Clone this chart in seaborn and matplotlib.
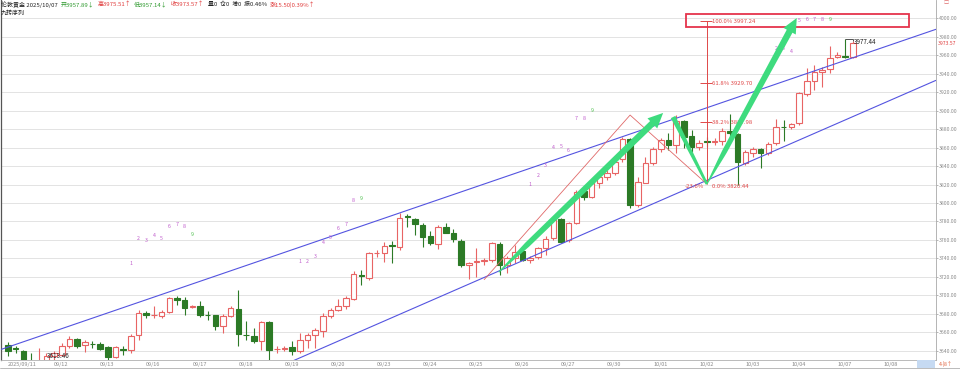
import numpy as np
import matplotlib
matplotlib.use("Agg")
import matplotlib.pyplot as plt
import seaborn as sns
from matplotlib.patches import Rectangle, Polygon
from matplotlib.transforms import IdentityTransform, blended_transform_factory
from matplotlib.ticker import FormatStrFormatter

# ---------------- data ----------------
opens = [3646.4, 3642.6, 3639.5, 3628.0, 3622.0, 3628.0, 3634.5, 3635.6, 3645.3, 3652.6,
         3646.1, 3647.6, 3647.5, 3643.5, 3633.1, 3642.4, 3641.0, 3656.5, 3681.1, 3678.5,
         3677.8, 3681.4, 3696.9, 3694.4, 3687.5, 3687.9, 3678.8, 3678.5, 3666.3, 3677.8,
         3685.0, 3657.5, 3655.5, 3650.4, 3670.6, 3641.8, 3641.8, 3643.5, 3639.2, 3651.9,
         3657.2, 3661.9, 3677.8, 3684.3, 3687.9, 3695.8, 3722.2, 3718.6, 3746.0, 3745.6,
         3754.0, 3752.8, 3785.6, 3782.8, 3776.3, 3764.4, 3755.7, 3773.8, 3767.3, 3759.3,
         3733.0, 3736.0, 3737.0, 3738.4, 3755.7, 3733.0, 3740.0, 3748.5, 3738.4, 3742.0,
         3751.0, 3761.8, 3782.4, 3760.0, 3778.8, 3813.4, 3807.0, 3821.4, 3827.9, 3832.2,
         3847.4, 3869.0, 3797.9, 3822.1, 3843.7, 3858.2, 3868.3, 3862.9, 3889.2, 3872.6,
         3860.3, 3866.6, 3866.0, 3867.6, 3878.4, 3874.8, 3843.7, 3854.6, 3858.2, 3853.8,
         3864.7, 3882.2, 3882.0, 3886.3, 3917.7, 3932.1, 3942.2, 3945.1, 3958.5, 3959.5,
         3957.89]
highs = [3649.0, 3645.0, 3641.0, 3637.0, 3643.0, 3637.0, 3640.0, 3648.2, 3655.5, 3653.6,
         3651.9, 3650.0, 3649.0, 3644.6, 3645.3, 3645.3, 3657.9, 3684.3, 3682.5, 3687.9,
         3684.3, 3698.0, 3699.4, 3698.0, 3689.4, 3694.0, 3682.5, 3679.2, 3680.0, 3688.6,
         3706.0, 3671.7, 3664.8, 3671.7, 3671.7, 3645.3, 3645.0, 3650.0, 3659.1, 3659.1,
         3664.5, 3680.7, 3686.1, 3695.8, 3699.4, 3725.8, 3727.6, 3747.4, 3749.2, 3757.2,
         3758.3, 3788.9, 3788.2, 3783.5, 3778.1, 3769.8, 3776.3, 3778.8, 3771.6, 3760.8,
         3736.6, 3751.0, 3740.0, 3758.0, 3758.0, 3743.0, 3754.6, 3750.0, 3742.6, 3752.8,
         3763.7, 3783.5, 3784.0, 3779.9, 3814.1, 3814.9, 3823.2, 3831.5, 3835.8, 3846.6,
         3871.2, 3870.0, 3828.6, 3850.2, 3860.3, 3870.1, 3875.5, 3895.3, 3890.0, 3879.0,
         3868.3, 3871.9, 3870.0, 3880.9, 3896.4, 3876.2, 3857.5, 3861.1, 3859.3, 3866.5,
         3890.7, 3890.0, 3887.0, 3920.5, 3945.8, 3949.4, 3947.6, 3970.4, 3963.9, 3977.44,
         3975.51]
lows = [3634.5, 3638.0, 3624.0, 3618.0, 3618.0, 3613.46, 3628.0, 3634.0, 3642.8, 3642.8,
        3638.1, 3643.0, 3641.0, 3630.5, 3632.0, 3635.6, 3637.4, 3651.9, 3675.3, 3675.3,
        3675.3, 3680.7, 3689.0, 3678.9, 3686.1, 3676.0, 3673.5, 3662.0, 3659.0, 3676.4,
        3645.3, 3651.9, 3648.2, 3641.0, 3628.0, 3637.4, 3640.0, 3635.6, 3637.4, 3642.8,
        3642.8, 3655.0, 3675.0, 3682.5, 3685.0, 3695.1, 3711.3, 3716.8, 3742.0, 3736.6,
        3735.5, 3749.2, 3774.5, 3765.5, 3752.8, 3754.7, 3750.0, 3767.3, 3758.2, 3731.0,
        3717.5, 3720.0, 3733.0, 3736.0, 3722.0, 3724.0, 3735.0, 3737.0, 3735.5, 3739.0,
        3743.8, 3760.0, 3757.0, 3758.2, 3777.4, 3803.3, 3805.2, 3816.0, 3825.0, 3830.4,
        3844.8, 3794.3, 3796.0, 3821.4, 3841.2, 3855.7, 3857.5, 3853.8, 3859.3, 3855.7,
        3857.5, 3861.1, 3862.9, 3862.9, 3873.0, 3819.6, 3841.2, 3850.0, 3837.6, 3852.0,
        3862.9, 3867.6, 3880.0, 3884.5, 3916.3, 3922.4, 3926.0, 3940.4, 3956.7, 3956.7,
        3957.14]
closes = [3640.0, 3642.0, 3627.0, 3622.0, 3629.0, 3634.5, 3637.0, 3645.3, 3652.6, 3645.3,
          3649.3, 3647.4, 3642.1, 3633.1, 3643.9, 3641.0, 3655.5, 3680.7, 3678.5, 3678.8,
          3682.1, 3696.9, 3695.1, 3686.8, 3688.5, 3678.9, 3678.5, 3667.0, 3677.1, 3686.1,
          3658.0, 3657.2, 3650.4, 3670.6, 3640.5, 3642.4, 3642.6, 3639.2, 3651.9, 3656.5,
          3662.7, 3677.8, 3684.3, 3688.6, 3697.0, 3723.3, 3721.1, 3745.6, 3746.3, 3753.6,
          3753.2, 3783.5, 3785.0, 3777.0, 3763.6, 3756.5, 3773.8, 3768.0, 3760.8, 3733.0,
          3735.5, 3737.0, 3738.0, 3756.4, 3733.0, 3740.0, 3747.4, 3738.4, 3740.9, 3751.0,
          3760.8, 3781.7, 3758.2, 3778.1, 3812.3, 3807.0, 3821.4, 3827.9, 3832.2, 3844.8,
          3869.0, 3797.9, 3823.2, 3843.7, 3858.2, 3868.3, 3862.9, 3889.2, 3871.9, 3860.3,
          3865.4, 3866.2, 3867.0, 3878.4, 3875.5, 3844.8, 3855.6, 3858.2, 3854.6, 3864.0,
          3882.7, 3882.0, 3885.6, 3918.8, 3932.1, 3941.5, 3944.0, 3957.4, 3960.3, 3958.07,
          3973.57]

date_labels = ["2025/09/11", "09/12", "09/13", "09/16", "09/17", "09/18", "09/19", "09/20",
               "09/23", "09/24", "09/25", "09/26", "09/27", "09/30", "10/01", "10/02",
               "10/03", "10/04", "10/07", "10/08"]
bars_per_day = 6

price_ticks = list(range(3640, 4001, 20))

td_starts = [16, 38, 68, 99]          # first bar of each 九转 count 1..9

fib_low, fib_high = 3820.44, 3997.24
fib_levels = [1.0, 0.618, 0.382, 0.0]
fib_bar = 91

upper_channel = [(-1.04, 3641.0), (120.8, 3988.0)]
lower_channel = [(35.0, 3621.4), (120.8, 3932.7)]
red_wedge = [(62.0, 3717.0), (81.0, 3895.2), (91.0, 3820.44)]
arrow_up1 = [(63.9, 3725.0), (85.3, 3897.5)]
arrow_v = [(86.6, 3893.1), (91.0, 3820.44), (102.7, 4000.3)]
target_box = (88.3, 117.3, 3990.6, 4004.7)

last_price = 3973.57
period_high = 3977.44
period_low = 3613.46

header_parts = [("伦敦黄金 2025/10/07", "#222222"), ("开3957.89↓", "#2f9a2f"),
                ("高3975.51↑", "#e03c3c"), ("低3957.14↓", "#2f9a2f"),
                ("收3973.57↑", "#e03c3c"), ("量0  仓0  增0  振0.46%", "#222222"),
                ("涨15.50|0.39%↑", "#e03c3c")]

# ---------------- style ----------------
sns.set_theme(style="white")
plt.rcParams['font.family'] = ['Noto Sans CJK SC', 'DejaVu Sans']

W, H = 960, 369
fig = plt.figure(figsize=(W / 100, H / 100), dpi=100)
fig.patch.set_facecolor("white")
ax = fig.add_axes([1 / W, 9.5 / H, 935 / W, 359.5 / H])
ax.set_facecolor("white")
ax.set_xlim(-0.911, 120.83)
ax.set_ylim(3630.5, 4019.8)

o = np.array(opens); h = np.array(highs); l = np.array(lows); c = np.array(closes)
n = len(o)
idx = np.arange(n)
up = c >= o
RED = "#e86464"
GREEN = "#2c7a26"

body_lo = np.minimum(o, c)
body_hi = np.maximum(o, c)
heights = np.maximum(body_hi - body_lo, 0.35)
cols = np.where(up, RED, GREEN)

ax.vlines(idx, l, body_lo, colors=cols, lw=0.8, zorder=3)
ax.vlines(idx, body_hi, h, colors=cols, lw=0.8, zorder=3)
ax.bar(idx[up], heights[up], bottom=body_lo[up], width=0.72, facecolor="white",
       edgecolor=RED, linewidth=0.8, zorder=4)
ax.bar(idx[~up], heights[~up], bottom=body_lo[~up], width=0.72, facecolor=GREEN,
       edgecolor=GREEN, linewidth=0.8, zorder=4)

# grid / axes
ax.set_yticks(price_ticks)
ax.yaxis.set_major_formatter(FormatStrFormatter('%.2f'))
ax.yaxis.tick_right()
ax.yaxis.grid(True, color="#dedede", lw=0.6)
ax.xaxis.grid(False)
ax.set_axisbelow(True)
ax.tick_params(axis='y', labelsize=3.7, labelcolor='#8a8a8a', length=1.5, width=0.5,
               color='#9a9a9a', pad=0.5, direction='out')
pos = np.arange(len(date_labels)) * bars_per_day
ax.set_xticks(pos)
ax.set_xticklabels(date_labels, ha='left', fontsize=4, color='#8a8a8a')
ax.tick_params(axis='x', length=1.5, width=0.5, color='#9a9a9a', pad=0.2, direction='out')
ax.spines['top'].set_visible(False)
ax.spines['left'].set_color('#555555'); ax.spines['left'].set_linewidth(0.9)
ax.spines['right'].set_color('#a8a8a8'); ax.spines['right'].set_linewidth(0.6)
ax.spines['bottom'].set_color('#b0b0b0'); ax.spines['bottom'].set_linewidth(0.6)

# channel lines (seaborn)
for line in (upper_channel, lower_channel):
    xs, ys = zip(*line)
    sns.lineplot(x=list(xs), y=list(ys), ax=ax, color="#5454e0", lw=0.8,
                 estimator=None, sort=False, zorder=5)
xs, ys = zip(*red_wedge)
sns.lineplot(x=list(xs), y=list(ys), ax=ax, color="#e06868", lw=0.6,
             estimator=None, sort=False, zorder=5)

# Fibonacci
FIB = "#e04848"
ax.vlines(fib_bar, fib_low, fib_high, color=FIB, lw=0.7, zorder=5)
for lv in fib_levels:
    p = fib_low + lv * (fib_high - fib_low)
    if lv > 0:
        ax.hlines(p, fib_bar - 0.9, fib_bar + 0.6, color=FIB, lw=0.7, zorder=5)
        ax.text(fib_bar + 0.7, p - 0.5, f"{lv*100:.1f}% {p:.2f}", color=FIB, fontsize=4.3,
                va='center', ha='left', zorder=7)
    else:
        ax.text(fib_bar + 0.7, p - 2.2, f"{lv*100:.1f}% {p:.2f}", color=FIB, fontsize=4.3,
                va='center', ha='left', zorder=7)
        ax.text(fib_bar - 0.4, p - 2.2, "-23.6%", color=FIB, fontsize=4.3,
                va='center', ha='right', zorder=7)

# target box
bx0, bx1, by0, by1 = target_box
ax.add_patch(Rectangle((bx0, by0), bx1 - bx0, by1 - by0, fill=False,
                       edgecolor="#e5344c", lw=1.3, zorder=6))

# 九转序列 numbers
for s in td_starts:
    for k in range(1, 10):
        i = s + k - 1
        y = min(h[i] + 77, 3999.0)
        ax.text(i, y, str(k), fontsize=3.8, color=("#4cbf4c" if k == 9 else "#c05ccc"),
                ha='center', va='center', zorder=5)

# green brush arrows (pixel space)
ARW = "#3edb7e"


def stroke(p0d, p1d, tprof, wprof, head=None, nseg=40):
    P = ax.transData.transform(np.array([p0d, p1d], float))
    p0, p1 = P[0], P[1]
    d = p1 - p0
    L = np.hypot(*d)
    u = d / L
    nr = np.array([-u[1], u[0]])
    end = p1 - u * head[0] * 0.6 if head else p1
    ts = np.linspace(0, 1, nseg)
    pts = p0 + np.outer(ts, end - p0)
    w = np.interp(ts, tprof, wprof) / 2
    poly = np.vstack([pts + np.outer(w, nr), (pts - np.outer(w, nr))[::-1]])
    ax.add_patch(Polygon(poly, closed=True, facecolor=ARW, edgecolor='none',
                         transform=IdentityTransform(), zorder=8))
    if head:
        hl, hw = head
        base = p1 - u * hl
        tri = np.array([p1, base + nr * hw / 2, base - nr * hw / 2])
        ax.add_patch(Polygon(tri, closed=True, facecolor=ARW, edgecolor='none',
                             transform=IdentityTransform(), zorder=8))


stroke(arrow_up1[0], arrow_up1[1], [0, 0.18, 1], [1.0, 5.5, 6.5], head=(15, 14))
stroke(arrow_v[0], arrow_v[1], [0, 1], [5.0, 2.5])
stroke(arrow_v[1], arrow_v[2], [0, 0.2, 1], [1.0, 5.0, 6.5], head=(15, 14))

# high / low / last labels
ax.hlines(period_high, 109, 110, color="#333333", lw=0.6, zorder=6)
ax.vlines(110, period_high - 2, period_high, color="#333333", lw=0.6, zorder=6)
ax.text(110.15, period_high - 3.0, f"{period_high:.2f}", fontsize=4.5, color="#222222",
        va='center', ha='left', zorder=7)
ax.text(5.1, 3634.3, f"{period_low:.2f}", fontsize=4.5, color="#222222",
        va='center', ha='left', zorder=7)
trans = blended_transform_factory(ax.transAxes, ax.transData)
ax.text(1.0 + 2 / 935, last_price - 0.8, f"{last_price:.2f}", transform=trans, fontsize=3.7,
        color="#e03c3c", va='center', ha='left', clip_on=False, zorder=9)

# header
renderer = fig.canvas.get_renderer()
xpos = 1.0 / W
for txt, col in header_parts:
    t = fig.text(xpos, 1 - 4.5 / H, txt, color=col, fontsize=4.3, va='center', ha='left')
    bb = t.get_window_extent(renderer)
    xpos += bb.width / W + 3.0 / W
fig.text(1.0 / W, 1 - 13 / H, "九转序列", color="#222222", fontsize=4.3, va='center', ha='left')

# bottom strip decorations
fig.add_artist(plt.Line2D([0, 1], [1 / H, 1 / H], color="#b0b0b0", lw=0.6,
                          transform=fig.transFigure))
fig.add_artist(Rectangle((917 / W, 1.5 / H), 18 / W, 8 / H, facecolor="#c6daf2",
                         edgecolor='none', transform=fig.transFigure))
fig.text(939 / W, 5 / H, "4-|8↑", fontsize=3.7, color="#e0603a", va='center', ha='left')
fig.text(943 / W, 1 - 3 / H, "□", fontsize=3.7, color="#e07070", va='center', ha='left')

fig.savefig("out.png", dpi=100, facecolor="white")
